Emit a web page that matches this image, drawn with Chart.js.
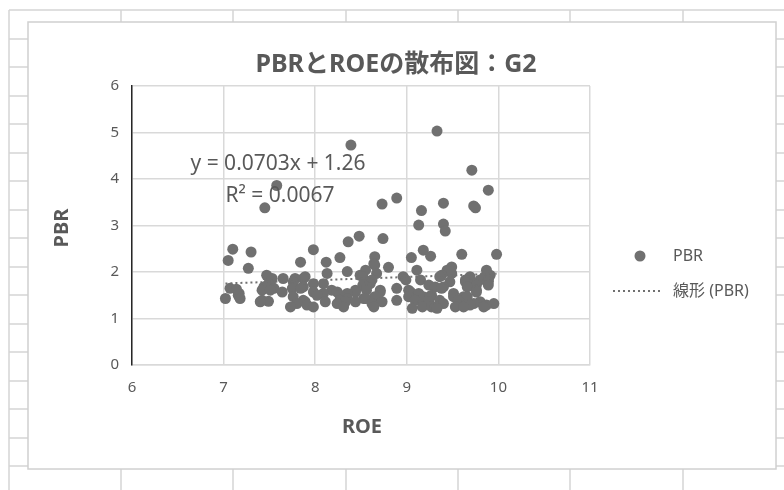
<!DOCTYPE html>
<html>
<head>
<meta charset="utf-8">
<script src="https://cdn.jsdelivr.net/npm/chart.js@4"></script>
<style>
  html, body { margin: 0; padding: 0; background: #fff; }
  #wrap { width: 784px; height: 490px; position: relative; }
</style>
</head>
<body>
<div id="wrap"><canvas id="c" width="784" height="490"></canvas></div>
<script>
// ── DATA ──────────────────────────────────────────────
const roe = [
  9.33, 8.39, 9.71, 7.58, 9.89, 8.89, 8.73, 9.40, 9.73, 9.75, 7.45, 9.16, 9.13, 9.40, 9.42, 8.48, 8.74, 8.36,
  7.10, 7.30, 7.98, 9.18, 9.60, 9.98, 8.65, 9.05, 9.26, 8.27, 7.05, 7.84, 8.12, 8.64, 8.65, 8.80, 9.49, 7.27,
  9.11, 9.44, 8.55, 9.87, 8.35, 8.13, 8.67, 9.49,
  7.47, 8.49, 9.38, 9.91, 8.96, 7.89, 8.52, 9.36, 9.69, 9.85, 7.53, 7.65, 7.87, 7.78, 8.62, 8.99, 9.15, 9.64,
  9.80, 9.89, 7.76, 9.47, 9.64, 9.89,
  7.49, 7.98, 8.09, 8.60, 9.73, 7.51, 8.52, 9.24, 9.76, 9.89, 7.44, 7.87, 8.56, 9.31, 9.40, 9.66, 7.07, 7.55,
  7.75, 7.84, 8.89, 9.38, 7.42, 7.51, 8.18, 8.44, 8.56, 8.71, 9.02, 9.76,
  7.64, 7.98, 8.24, 8.44, 8.71, 9.04, 9.76, 7.17, 8.09, 8.35, 9.13, 9.51, 7.16, 8.02, 8.27, 9.27, 7.76, 8.65,
  9.02, 9.18, 9.25, 9.51, 9.62, 9.66, 7.02, 7.18, 8.35, 8.53, 8.55,
  7.42, 7.87, 8.27, 8.89, 9.09, 9.36, 9.56, 7.49, 7.40, 8.11, 8.33, 8.44, 8.73, 9.18, 9.24, 9.80, 7.89, 8.24,
  7.80, 8.62, 9.40, 9.73, 9.95, 7.91, 9.64, 9.69, 9.87, 7.73, 7.98, 8.31, 8.64, 9.17, 9.27, 9.31, 9.53, 9.62,
  9.84, 9.06, 9.33, 7.14
];
const pbr = [
  5.03, 4.73, 4.19, 3.86, 3.76, 3.59, 3.46, 3.48, 3.42, 3.38, 3.38, 3.32, 3.01, 3.03, 2.88, 2.77, 2.72, 2.65,
  2.49, 2.43, 2.48, 2.47, 2.38, 2.38, 2.33, 2.31, 2.34, 2.31, 2.25, 2.21, 2.21, 2.18, 2.15, 2.10, 2.11, 2.08,
  2.04, 2.04, 2.04, 2.04, 2.01, 1.97, 1.97, 1.97,
  1.93, 1.93, 1.93, 1.93, 1.90, 1.90, 1.90, 1.90, 1.90, 1.90, 1.86, 1.86, 1.86, 1.86, 1.83, 1.83, 1.83, 1.83,
  1.83, 1.83, 1.79, 1.79, 1.79, 1.79,
  1.75, 1.75, 1.75, 1.75, 1.75, 1.72, 1.72, 1.72, 1.72, 1.72, 1.68, 1.68, 1.68, 1.68, 1.68, 1.68, 1.65, 1.65,
  1.65, 1.65, 1.65, 1.65, 1.61, 1.61, 1.61, 1.61, 1.61, 1.61, 1.61, 1.61,
  1.57, 1.57, 1.57, 1.57, 1.57, 1.57, 1.57, 1.54, 1.54, 1.54, 1.54, 1.54, 1.50, 1.50, 1.50, 1.50, 1.47, 1.47,
  1.47, 1.47, 1.47, 1.47, 1.47, 1.47, 1.43, 1.43, 1.43, 1.43, 1.43,
  1.39, 1.39, 1.39, 1.39, 1.39, 1.39, 1.39, 1.37, 1.36, 1.36, 1.36, 1.36, 1.36, 1.36, 1.36, 1.36, 1.36, 1.32,
  1.32, 1.32, 1.32, 1.32, 1.32, 1.29, 1.29, 1.29, 1.29, 1.25, 1.25, 1.25, 1.25, 1.25, 1.25, 1.25, 1.25, 1.25,
  1.25, 1.22, 1.22, 1.63
];
const xTicks = [6, 7, 8, 9, 10, 11];
const yTicks = [0, 1, 2, 3, 4, 5, 6];
const trendSlope = 0.0703, trendIntercept = 1.26;
const trendText = ['y = 0.0703x + 1.26', 'R² = 0.0067'];

const FONT = '"Noto Sans", "Noto Sans CJK JP", sans-serif';
const GREY = '#595959', DOT = '#707070';

// ── TRENDLINE ─────────────────────────────────────────
const xMin = Math.min(...roe), xMax = Math.max(...roe);
const trend = [xMin, xMax].map(x => ({ x: x, y: trendIntercept + trendSlope * x }));

// ── BACKGROUND + LABELS ───────────────────────────────
const sheetPlugin = {
  id: 'sheet',
  beforeDraw(chart) {
    const ctx = chart.ctx;
    ctx.save();
    ctx.fillStyle = '#fff'; ctx.fillRect(0, 0, 784, 490);
    ctx.strokeStyle = '#d4d4d4'; ctx.lineWidth = 1.5;
    // spreadsheet cells behind the chart
    [9, 121, 233, 346, 458, 570, 683].forEach(x => { ctx.beginPath(); ctx.moveTo(x, 10); ctx.lineTo(x, 490); ctx.stroke(); });
    for (let y = 10; y < 490; y += 28.5) { ctx.beginPath(); ctx.moveTo(9, Math.round(y)); ctx.lineTo(784, Math.round(y)); ctx.stroke(); }
    // chart box
    ctx.fillStyle = '#fff'; ctx.fillRect(28, 22, 748, 447);
    ctx.strokeStyle = '#d0d0d0'; ctx.strokeRect(28, 22, 748, 447);
    ctx.restore();
  },
  afterDraw(chart) {
    const ctx = chart.ctx;
    ctx.save();
    ctx.fillStyle = GREY; ctx.textAlign = 'center'; ctx.textBaseline = 'middle';
    ctx.font = 'bold 25px ' + FONT;
    ctx.fillText('PBRとROEの散布図：G2', 396, 65);
    ctx.font = 'bold 20px ' + FONT;
    ctx.fillText('ROE', 362, 427);
    ctx.save(); ctx.translate(62, 228); ctx.rotate(-Math.PI / 2); ctx.fillText('PBR', 0, 0); ctx.restore();
    ctx.font = '21px ' + FONT;
    ctx.fillText(trendText[0], 278, 164);
    ctx.fillText(trendText[1], 280, 196);
    // legend
    ctx.textAlign = 'left'; ctx.font = '16px ' + FONT;
    ctx.fillStyle = DOT; ctx.beginPath(); ctx.arc(640, 256, 5.5, 0, Math.PI * 2); ctx.fill();
    ctx.fillStyle = GREY; ctx.fillText('PBR', 673, 256);
    ctx.strokeStyle = DOT; ctx.lineWidth = 2; ctx.setLineDash([2, 3]);
    ctx.beginPath(); ctx.moveTo(613, 291); ctx.lineTo(662, 291); ctx.stroke();
    ctx.setLineDash([]);
    ctx.fillText('線形 (PBR)', 673, 291);
    ctx.restore();
  }
};

// ── CHART ─────────────────────────────────────────────
new Chart(document.getElementById('c'), {
  type: 'scatter',
  data: {
    datasets: [
      { label: '線形 (PBR)', data: trend, type: 'line', showLine: true, borderColor: DOT, borderWidth: 2, borderDash: [2, 3], pointRadius: 0, fill: false, order: 0 },
      { label: 'PBR', data: roe.map((x, i) => ({ x: x, y: pbr[i] })), backgroundColor: DOT, borderWidth: 0, pointRadius: 5.5, pointHoverRadius: 5.5, order: 1 }
    ]
  },
  plugins: [sheetPlugin],
  options: {
    responsive: false, animation: false,
    layout: { padding: { top: 86, right: 194, left: 0, bottom: 0 } },
    plugins: { legend: { display: false }, title: { display: false }, tooltip: { enabled: false } },
    scales: {
      x: {
        type: 'linear', min: xTicks[0], max: xTicks[xTicks.length - 1],
        afterBuildTicks: s => { s.ticks = xTicks.map(v => ({ value: v })); },
        afterFit: s => { s.height = 125; },
        grid: { color: '#d9d9d9', lineWidth: 1.5, drawTicks: false },
        border: { color: '#d9d9d9', width: 1.5 },
        ticks: { padding: 14, color: GREY, font: { family: FONT, size: 15 } }
      },
      y: {
        type: 'linear', min: yTicks[0], max: yTicks[yTicks.length - 1],
        afterBuildTicks: s => { s.ticks = yTicks.map(v => ({ value: v })); },
        afterFit: s => { s.width = 132; },
        grid: { color: '#d9d9d9', lineWidth: 1.5, drawTicks: false },
        border: { color: '#262626', width: 1.5 },
        ticks: { padding: 13, color: GREY, font: { family: FONT, size: 15 } }
      }
    }
  }
});
</script>
</body>
</html>
